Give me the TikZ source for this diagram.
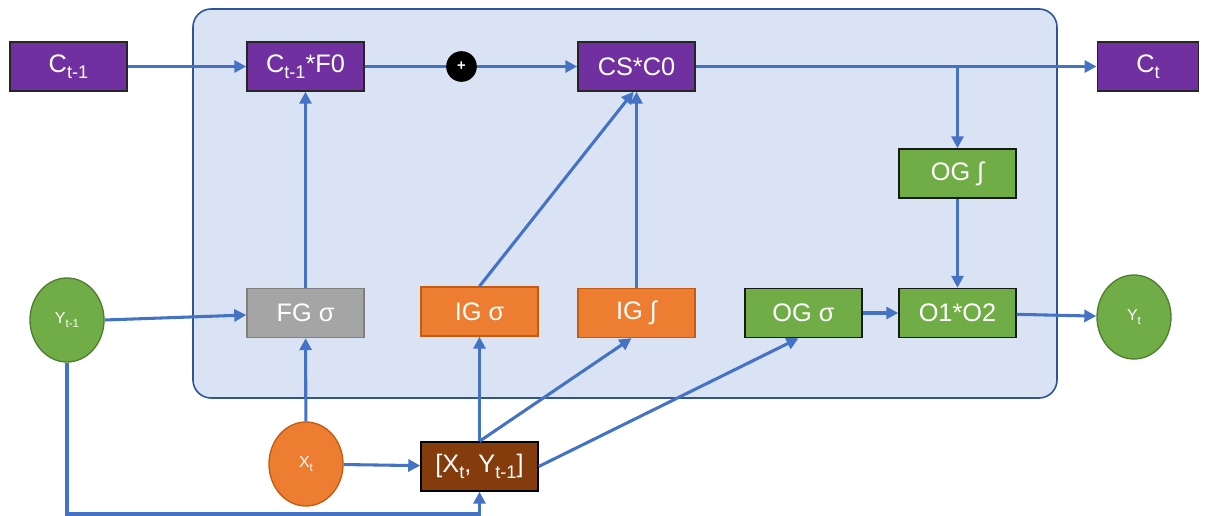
\documentclass[tikz,border=0pt]{standalone}
\usepackage{fontspec}
\setmainfont{Liberation Sans}
\usetikzlibrary{arrows.meta,calc,shapes.geometric}
\definecolor{cpurple}{HTML}{7030A0}
\definecolor{corange}{HTML}{ED7D31}
\definecolor{corangeline}{HTML}{C55A11}
\definecolor{cgreen}{HTML}{70AD47}
\definecolor{cgreenline}{HTML}{507E32}
\definecolor{cgray}{HTML}{A5A5A5}
\definecolor{cgrayline}{HTML}{7F7F7F}
\definecolor{cbrown}{HTML}{843C0C}
\definecolor{cline}{HTML}{4472C4}
\definecolor{panelfill}{HTML}{DAE3F3}
\definecolor{panelline}{HTML}{2F5597}
\newcommand\lsb[1]{\raisebox{-0.45ex}{\scalebox{0.72}{#1}}}
\begin{document}
\begin{tikzpicture}[x=0.75pt,y=-0.75pt,
  boxbase/.style={rectangle, minimum width=87.75pt, minimum height=36.75pt, inner sep=0pt,
    text=white, font=\fontsize{19}{22}\selectfont, line width=1.1pt},
  pbox/.style={boxbase, fill=cpurple, draw=black!85},
  gbox/.style={boxbase, fill=cgreen, draw=black!90},
  obox/.style={boxbase, fill=corange, draw=corangeline},
  graybox/.style={boxbase, fill=cgray, draw=cgrayline},
  bbox/.style={boxbase, fill=cbrown, draw=black},
  circbase/.style={ellipse, minimum width=55.5pt, minimum height=63pt, inner sep=0pt,
    text=white, font=\fontsize{12}{14}\selectfont, line width=1pt},
  gcirc/.style={circbase, fill=cgreen, draw=cgreenline},
  ocirc/.style={circbase, fill=corange, draw=corangeline},
  pluscirc/.style={circle, fill=black, minimum size=23pt, inner sep=0pt, text=white,
    font=\fontsize{11}{11}\selectfont\bfseries},
  wire/.style={draw=cline, line width=2.3pt},
  conn/.style={wire, -{Triangle[length=9pt,width=9pt]}}
]
\useasboundingbox (0,0) rectangle (1208,516);
\draw[fill=panelfill, draw=panelline, line width=1.2pt, rounded corners=13.5pt] (193,9) rectangle (1057,398);

\node[pbox] (cprev) at (68.5,66.5) {C\lsb{t-1}};
\node[pbox] (cf) at (305.5,66.5) {C\lsb{t-1}*F0};
\node[pluscirc] (plus) at (461.5,66.5) {+};
\node[pbox] (cs) at (636.5,66.5) {CS*C0};
\node[pbox, minimum width=76pt] (ct) at (1148,66.5) {C\lsb{t}};
\node[gbox] (ogi) at (957.5,173.5) {OG ∫};
\node[graybox] (fg) at (305.5,313) {FG σ};
\node[obox] (igs) at (479.5,311.5) {IG σ};
\node[obox] (igi) at (636.5,313) {IG ∫};
\node[gbox] (ogs) at (803.5,313) {OG σ};
\node[gbox] (oo) at (957.5,313) {O1*O2};
\node[gcirc] (yprev) at (67,320) {Y\lsb{t-1}};
\node[gcirc] (yt) at (1134,317) {Y\lsb{t}};
\node[ocirc] (xt) at (306,464) {X\lsb{t}};
\node[bbox] (xy) at (479.5,466.5) {[X\lsb{t}, Y\lsb{t-1}]};
\coordinate (bot) at (0,514);

\draw[conn] (cprev) -- (cf);
\draw[wire] (cf) -- (plus);
\draw[conn] (plus) -- (cs);
\draw[conn] (cs) -- (ct);
\draw[conn] (cs.east -| ogi) -- (ogi.north);
\draw[conn] (ogi) -- (oo);
\draw[conn] (fg) -- (cf);
\draw[conn] (igs.north) -- ($(cs.south)+(-3,0)$);
\draw[conn] (igi.north) -- (igi.north |- cs.south);
\draw[conn] (yprev.east) -- ($(fg.west)+(0,2)$);
\draw[conn] (xt) -- (fg);
\draw[conn] (xt) -- (xy);
\draw[conn] (xy.north) -- (igs.south);
\draw[conn] (xy.north) -- ($(igi.south)+(-5,0)$);
\draw[conn] (xy.east) -- ($(ogs.south)+(-5,0)$);
\draw[conn] (ogs) -- (oo);
\draw[conn] (oo) -- (yt);
\draw[conn] (yprev.south) -- (yprev.south |- bot) -| (xy.south);
\end{tikzpicture}
\end{document}
